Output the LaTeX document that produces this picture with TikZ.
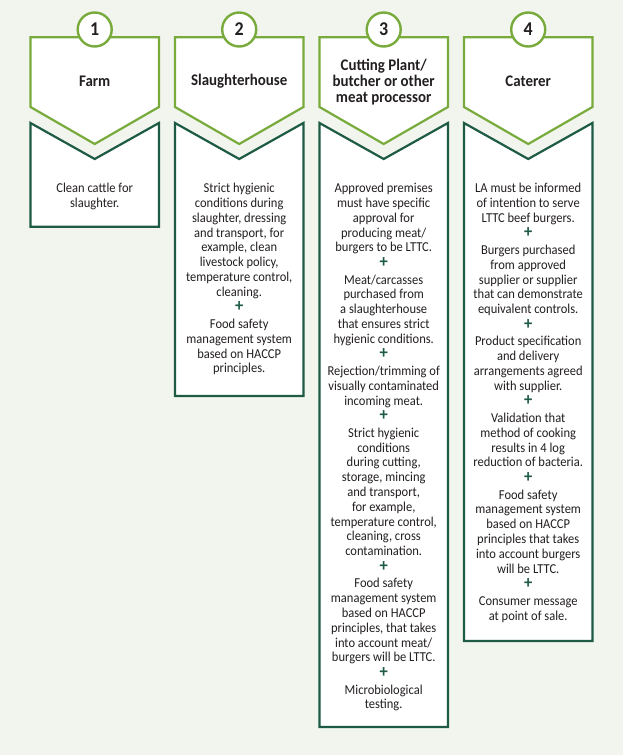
\documentclass[tikz,border=0pt]{standalone}
\usepackage{fontspec}
\setmainfont{Carlito}[FakeStretch=0.92]
\definecolor{bg}{HTML}{F2F5EE}
\definecolor{ltgreen}{HTML}{78AB3C}
\definecolor{dkgreen}{HTML}{1E5B44}
\definecolor{txt}{HTML}{231F20}
\newcommand{\pls}{\\[0.6pt]{\color{dkgreen}\bfseries\fontsize{18}{14.8}\selectfont +}\\[2pt]}
\newcommand{\stagecol}[3]{%
  \draw[bodybox] (#1-64.2,123) -- (#1,159) -- (#1+64.2,123) -- (#1+64.2,#2) -- (#1-64.2,#2) -- cycle;
  \draw[hdrbox] (#1-64.2,37.3) -- (#1+64.2,37.3) -- (#1+64.2,107) -- (#1,144) -- (#1-64.2,107) -- cycle;
  \node[numc] (n#3) at (#1,29.5) {#3};
}
\begin{document}
\begin{tikzpicture}[x=1pt,y=-1pt,
  hdrbox/.style={draw=ltgreen,fill=white,line width=2.2pt,line join=miter},
  bodybox/.style={draw=dkgreen,fill=white,line width=2.2pt,line join=miter},
  numc/.style={circle,draw=ltgreen,fill=white,line width=2.4pt,minimum size=34pt,inner sep=0pt,
    font=\bfseries\fontsize{19.5}{19.5}\selectfont,text=txt},
  title/.style={align=center,font=\bfseries\fontsize{16.2}{15.6}\selectfont,text=txt,inner sep=0pt},
  bodytxt/.style={align=center,font=\fontsize{13.6}{14.8}\selectfont,text=txt,inner sep=0pt,anchor=north}]
\fill[bg] (0,0) rectangle (623,755);
\useasboundingbox (0,0) rectangle (623,755);
\stagecol{94.7}{226.7}{1}
\stagecol{239.2}{396}{2}
\stagecol{383.7}{727}{3}
\stagecol{528.2}{641}{4}
\node[title] (h1) at (94.7,81.5) {Farm};
\node[title] (h2) at (239.2,81.5) {Slaughterhouse};
\node[title] (h3) at (383.7,82) {Cutting Plant/\\butcher or other\\meat processor};
\node[title] (h4) at (528.2,81.5) {Caterer};
\node[bodytxt] (t1) at (94.7,183) {Clean cattle for\\slaughter.};
\node[bodytxt] (t2) at (239.2,183) {Strict hygienic\\conditions during\\slaughter, dressing\\and transport, for\\example, clean\\livestock policy,\\temperature control,\\cleaning.\pls Food safety\\management system\\based on HACCP\\principles.};
\node[bodytxt] (t3) at (383.7,183) {Approved premises\\must have specific\\approval for\\producing meat/\\burgers to be LTTC.\pls Meat/carcasses\\purchased from\\a slaughterhouse\\that ensures strict\\hygienic conditions.\pls Rejection/trimming of\\visually contaminated\\incoming meat.\pls Strict hygienic\\conditions\\during cutting,\\storage, mincing\\and transport,\\for example,\\temperature control,\\cleaning, cross\\contamination.\pls Food safety\\management system\\based on HACCP\\principles, that takes\\into account meat/\\burgers will be LTTC.\pls Microbiological\\testing.};
\node[bodytxt] (t4) at (528.2,183) {LA must be informed\\of intention to serve\\LTTC beef burgers.\pls Burgers purchased\\from approved\\supplier or supplier\\that can demonstrate\\equivalent controls.\pls Product specification\\and delivery\\arrangements agreed\\with supplier.\pls Validation that\\method of cooking\\results in 4 log\\reduction of bacteria.\pls Food safety\\management system\\based on HACCP\\principles that takes\\into account burgers\\will be LTTC.\pls Consumer message\\at point of sale.};
\end{tikzpicture}
\end{document}
